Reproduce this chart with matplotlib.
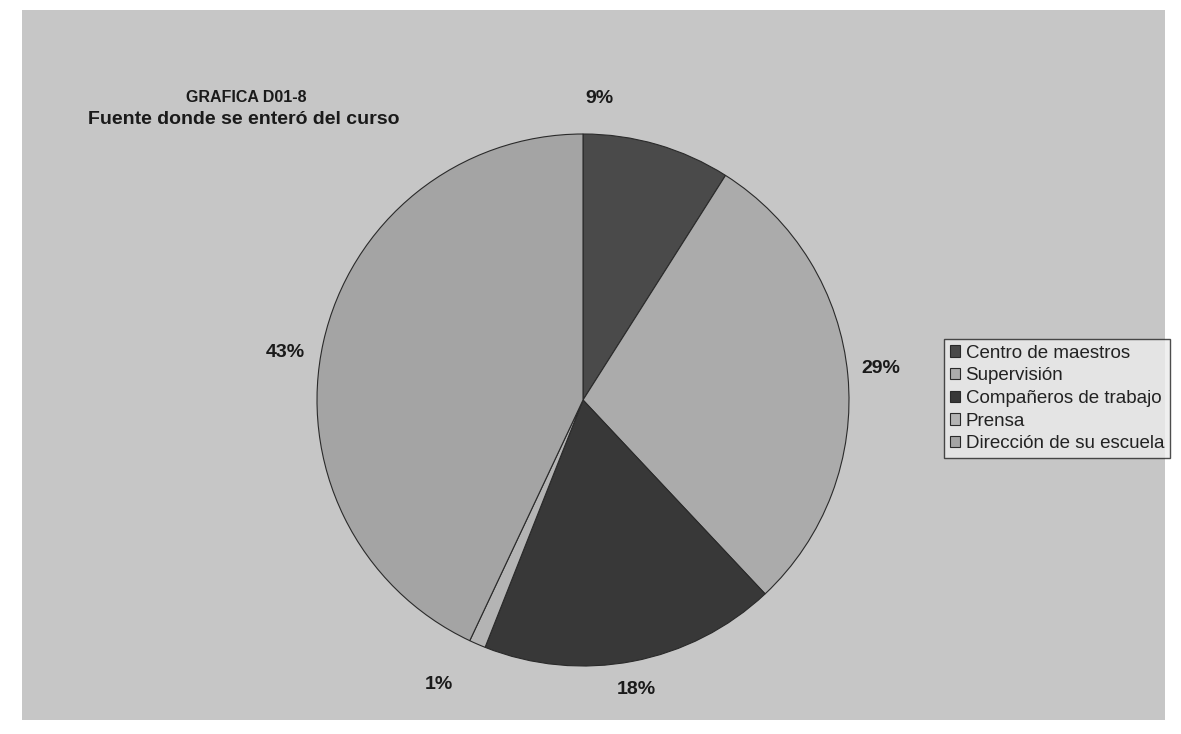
import matplotlib
matplotlib.use("Agg")
import matplotlib.pyplot as plt
from matplotlib.patches import Rectangle

plt.rcParams['font.family'] = ['Liberation Sans', 'DejaVu Sans']

# survey answers, percent of respondents
categories = ["Centro de maestros", "Supervisión", "Compañeros de trabajo",
              "Prensa", "Dirección de su escuela"]
values = [9, 29, 18, 1, 43]

colors = ["#4a4a4a", "#ababab", "#383838", "#b4b4b4", "#a4a4a4"]
# where each percent label sits (pie radius = 1)
label_xy = [(0.06, 1.135), (1.12, 0.12), (0.20, -1.09), (-0.54, -1.07), (-1.12, 0.18)]

fig = plt.figure(figsize=(11.81, 7.34), dpi=100, facecolor="white")

# grey chart area inside a white margin
W, H = 1181.0, 734.0
fig.patches.append(Rectangle((22 / W, 1 - 720 / H), (1165 - 22) / W, (720 - 10) / H,
                             transform=fig.transFigure, facecolor="#c6c6c6",
                             edgecolor="none", zorder=-5))

ax = fig.add_axes([(583 - 266) / W, (734 - 400 - 266) / H, 532 / W, 532 / H])
ax.set_zorder(2)
ax.set_facecolor("none")
wedges, _ = ax.pie(values, colors=colors, startangle=90, counterclock=False,
                   radius=1, wedgeprops=dict(edgecolor="#2a2a2a", linewidth=0.8))
ax.set_xlim(-1.0, 1.0)
ax.set_ylim(-1.0, 1.0)
ax.set_aspect("equal")
ax.axis("off")

for v, (x, y) in zip(values, label_xy):
    ax.text(x, y, "%d%%" % v, ha="center", va="center", fontsize=14,
            fontweight="bold", color="#1a1a1a", clip_on=False)

fig.text(246 / W, 1 - 97 / H, "GRAFICA D01-8", ha="center", va="center",
         fontsize=11.5, fontweight="bold", color="#1a1a1a")
fig.text(244 / W, 1 - 120 / H, "Fuente donde se enteró del curso", ha="center",
         va="center", fontsize=14, fontweight="bold", color="#1a1a1a")

leg = fig.legend(wedges, categories, loc="upper left",
                 bbox_to_anchor=(944 / W, 1 - 339 / H), frameon=True,
                 fancybox=False, fontsize=13.5, handlelength=0.55, handleheight=0.55,
                 handletextpad=0.3, labelspacing=0.3, borderpad=0.3,
                 borderaxespad=0)
leg.set_zorder(3)
leg.get_frame().set_facecolor("#ececec")
leg.get_frame().set_edgecolor("#222222")
leg.get_frame().set_linewidth(1.0)
for t in leg.get_texts():
    t.set_color("#222222")

fig.savefig("out.png", dpi=100, facecolor=fig.get_facecolor())
